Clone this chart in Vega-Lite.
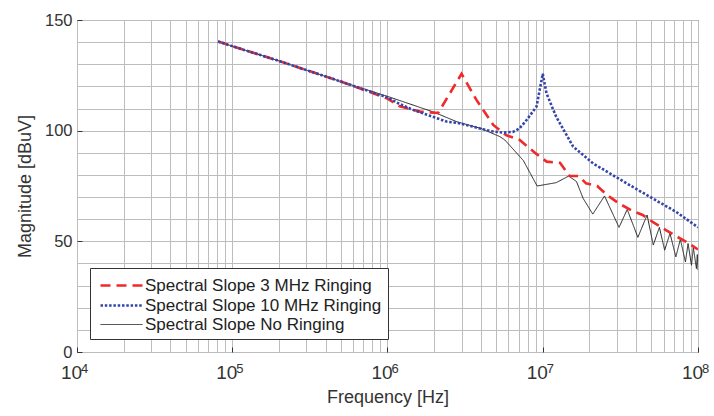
{
  "$schema": "https://vega.github.io/schema/vega-lite/v6.json",
  "width": 621,
  "height": 332,
  "autosize": {"type": "none"},
  "padding": {"left": 77, "top": 20, "right": 16, "bottom": 64},
  "background": "white",
  "config": {
    "font": "Liberation Sans",
    "view": {"stroke": "#333333", "strokeWidth": 1},
    "axis": {"domain": false, "gridColor": "#bdbdbd", "gridWidth": 1, "gridOpacity": 1, "labelOverlap": false, "labelFlush": false}
  },
  "layer": [
    {
      "data": {
        "values": [
          {"series": "Spectral Slope No Ringing", "f": 81000, "v": 140.3},
          {"series": "Spectral Slope No Ringing", "f": 100000, "v": 138.2},
          {"series": "Spectral Slope No Ringing", "f": 200000, "v": 131.5},
          {"series": "Spectral Slope No Ringing", "f": 500000, "v": 122.2},
          {"series": "Spectral Slope No Ringing", "f": 1000000, "v": 115.5},
          {"series": "Spectral Slope No Ringing", "f": 1500000, "v": 111.3},
          {"series": "Spectral Slope No Ringing", "f": 2000000, "v": 108.3},
          {"series": "Spectral Slope No Ringing", "f": 2800000, "v": 104.0},
          {"series": "Spectral Slope No Ringing", "f": 4000000, "v": 101.0},
          {"series": "Spectral Slope No Ringing", "f": 5300000, "v": 97.3},
          {"series": "Spectral Slope No Ringing", "f": 5700000, "v": 95.8},
          {"series": "Spectral Slope No Ringing", "f": 7500000, "v": 86.5},
          {"series": "Spectral Slope No Ringing", "f": 9200000, "v": 75.0},
          {"series": "Spectral Slope No Ringing", "f": 12200000, "v": 76.5},
          {"series": "Spectral Slope No Ringing", "f": 14700000, "v": 79.5},
          {"series": "Spectral Slope No Ringing", "f": 16500000, "v": 77.0},
          {"series": "Spectral Slope No Ringing", "f": 18200000, "v": 69.4},
          {"series": "Spectral Slope No Ringing", "f": 21000000, "v": 62.3},
          {"series": "Spectral Slope No Ringing", "f": 25000000, "v": 70.5},
          {"series": "Spectral Slope No Ringing", "f": 31000000, "v": 56.3},
          {"series": "Spectral Slope No Ringing", "f": 35000000, "v": 64.4},
          {"series": "Spectral Slope No Ringing", "f": 41000000, "v": 51.8},
          {"series": "Spectral Slope No Ringing", "f": 47000000, "v": 61.9},
          {"series": "Spectral Slope No Ringing", "f": 51500000, "v": 48.3},
          {"series": "Spectral Slope No Ringing", "f": 56400000, "v": 56.3},
          {"series": "Spectral Slope No Ringing", "f": 61000000, "v": 46.0},
          {"series": "Spectral Slope No Ringing", "f": 66000000, "v": 53.6},
          {"series": "Spectral Slope No Ringing", "f": 72000000, "v": 43.0},
          {"series": "Spectral Slope No Ringing", "f": 77000000, "v": 50.9},
          {"series": "Spectral Slope No Ringing", "f": 83000000, "v": 40.7},
          {"series": "Spectral Slope No Ringing", "f": 86300000, "v": 49.0},
          {"series": "Spectral Slope No Ringing", "f": 90800000, "v": 39.2},
          {"series": "Spectral Slope No Ringing", "f": 93300000, "v": 47.2},
          {"series": "Spectral Slope No Ringing", "f": 97700000, "v": 37.7},
          {"series": "Spectral Slope No Ringing", "f": 99000000, "v": 44.0},
          {"series": "Spectral Slope No Ringing", "f": 100000000, "v": 37.0},

          {"series": "Spectral Slope 3 MHz Ringing", "f": 81000, "v": 140.3},
          {"series": "Spectral Slope 3 MHz Ringing", "f": 100000, "v": 138.2},
          {"series": "Spectral Slope 3 MHz Ringing", "f": 200000, "v": 131.5},
          {"series": "Spectral Slope 3 MHz Ringing", "f": 500000, "v": 122.2},
          {"series": "Spectral Slope 3 MHz Ringing", "f": 1000000, "v": 114.5},
          {"series": "Spectral Slope 3 MHz Ringing", "f": 1200000, "v": 111.0},
          {"series": "Spectral Slope 3 MHz Ringing", "f": 1620000, "v": 108.6},
          {"series": "Spectral Slope 3 MHz Ringing", "f": 2120000, "v": 108.0},
          {"series": "Spectral Slope 3 MHz Ringing", "f": 3000000, "v": 125.7},
          {"series": "Spectral Slope 3 MHz Ringing", "f": 3740000, "v": 113.9},
          {"series": "Spectral Slope 3 MHz Ringing", "f": 4800000, "v": 102.6},
          {"series": "Spectral Slope 3 MHz Ringing", "f": 5800000, "v": 98.0},
          {"series": "Spectral Slope 3 MHz Ringing", "f": 7100000, "v": 95.8},
          {"series": "Spectral Slope 3 MHz Ringing", "f": 9100000, "v": 89.5},
          {"series": "Spectral Slope 3 MHz Ringing", "f": 10600000, "v": 86.0},
          {"series": "Spectral Slope 3 MHz Ringing", "f": 12900000, "v": 85.5},
          {"series": "Spectral Slope 3 MHz Ringing", "f": 14900000, "v": 79.5},
          {"series": "Spectral Slope 3 MHz Ringing", "f": 17000000, "v": 79.5},
          {"series": "Spectral Slope 3 MHz Ringing", "f": 19000000, "v": 76.2},
          {"series": "Spectral Slope 3 MHz Ringing", "f": 22400000, "v": 75.0},
          {"series": "Spectral Slope 3 MHz Ringing", "f": 26000000, "v": 70.9},
          {"series": "Spectral Slope 3 MHz Ringing", "f": 31000000, "v": 67.1},
          {"series": "Spectral Slope 3 MHz Ringing", "f": 37000000, "v": 64.1},
          {"series": "Spectral Slope 3 MHz Ringing", "f": 44000000, "v": 61.9},
          {"series": "Spectral Slope 3 MHz Ringing", "f": 51000000, "v": 58.8},
          {"series": "Spectral Slope 3 MHz Ringing", "f": 62500000, "v": 55.0},
          {"series": "Spectral Slope 3 MHz Ringing", "f": 72000000, "v": 52.4},
          {"series": "Spectral Slope 3 MHz Ringing", "f": 84000000, "v": 49.8},
          {"series": "Spectral Slope 3 MHz Ringing", "f": 100000000, "v": 46.3},

          {"series": "Spectral Slope 10 MHz Ringing", "f": 81000, "v": 140.3},
          {"series": "Spectral Slope 10 MHz Ringing", "f": 100000, "v": 138.2},
          {"series": "Spectral Slope 10 MHz Ringing", "f": 200000, "v": 131.5},
          {"series": "Spectral Slope 10 MHz Ringing", "f": 500000, "v": 122.2},
          {"series": "Spectral Slope 10 MHz Ringing", "f": 1000000, "v": 115.0},
          {"series": "Spectral Slope 10 MHz Ringing", "f": 1200000, "v": 112.0},
          {"series": "Spectral Slope 10 MHz Ringing", "f": 1460000, "v": 109.4},
          {"series": "Spectral Slope 10 MHz Ringing", "f": 2400000, "v": 104.1},
          {"series": "Spectral Slope 10 MHz Ringing", "f": 2930000, "v": 103.3},
          {"series": "Spectral Slope 10 MHz Ringing", "f": 3940000, "v": 101.0},
          {"series": "Spectral Slope 10 MHz Ringing", "f": 4600000, "v": 99.8},
          {"series": "Spectral Slope 10 MHz Ringing", "f": 5560000, "v": 99.1},
          {"series": "Spectral Slope 10 MHz Ringing", "f": 6460000, "v": 99.5},
          {"series": "Spectral Slope 10 MHz Ringing", "f": 7080000, "v": 101.0},
          {"series": "Spectral Slope 10 MHz Ringing", "f": 7870000, "v": 104.8},
          {"series": "Spectral Slope 10 MHz Ringing", "f": 9120000, "v": 110.9},
          {"series": "Spectral Slope 10 MHz Ringing", "f": 10000000, "v": 125.7},
          {"series": "Spectral Slope 10 MHz Ringing", "f": 10570000, "v": 116.9},
          {"series": "Spectral Slope 10 MHz Ringing", "f": 12200000, "v": 106.3},
          {"series": "Spectral Slope 10 MHz Ringing", "f": 15700000, "v": 92.8},
          {"series": "Spectral Slope 10 MHz Ringing", "f": 21100000, "v": 85.2},
          {"series": "Spectral Slope 10 MHz Ringing", "f": 34700000, "v": 76.2},
          {"series": "Spectral Slope 10 MHz Ringing", "f": 49000000, "v": 70.1},
          {"series": "Spectral Slope 10 MHz Ringing", "f": 72400000, "v": 63.3},
          {"series": "Spectral Slope 10 MHz Ringing", "f": 100000000, "v": 56.3}
        ]
      },
      "mark": {"type": "line", "clip": true},
      "encoding": {
        "x": {
          "field": "f",
          "type": "quantitative",
          "scale": {"type": "log", "domain": [10000, 100000000]},
          "axis": {
            "title": "Frequency [Hz]",
            "titleFontSize": 18,
            "titleFontWeight": "normal",
            "titleColor": "#333333",
            "titlePadding": 6,
            "values": [10000, 20000, 30000, 40000, 50000, 60000, 70000, 80000, 90000, 100000, 200000, 300000, 400000, 500000, 600000, 700000, 800000, 900000, 1000000, 2000000, 3000000, 4000000, 5000000, 6000000, 7000000, 8000000, 9000000, 10000000, 20000000, 30000000, 40000000, 50000000, 60000000, 70000000, 80000000, 90000000, 100000000],
            "labelExpr": "indexof([10000,100000,1000000,10000000,100000000], datum.value) >= 0 ? '10' : ''",
            "labelFontSize": 19,
            "labelColor": "#333333",
            "labelPadding": 16,
            "labelOffset": -6,
            "labelOverlap": false,
            "tickSize": -5,
            "tickColor": {"condition": {"test": "indexof([10000,100000,1000000,10000000,100000000], datum.value) >= 0", "value": "#333333"}, "value": "transparent"}
          }
        },
        "y": {
          "field": "v",
          "type": "quantitative",
          "scale": {"domain": [0, 150], "nice": false, "zero": true},
          "axis": {
            "title": "Magnitude [dBuV]",
            "titleFontSize": 18,
            "titleFontWeight": "normal",
            "titleColor": "#333333",
            "titlePadding": 10,
            "values": [0, 10, 20, 30, 40, 50, 60, 70, 80, 90, 100, 110, 120, 130, 140, 150],
            "labelExpr": "datum.value % 50 == 0 ? datum.label : ''",
            "labelFontSize": 16.5,
            "labelColor": "#333333",
            "labelPadding": 10,
            "labelOverlap": false,
            "tickSize": -5,
            "tickColor": {"condition": {"test": "datum.value % 50 == 0", "value": "#333333"}, "value": "transparent"}
          }
        },
        "detail": {"field": "series"},
        "color": {
          "field": "series",
          "type": "nominal",
          "scale": {
            "domain": ["Spectral Slope 3 MHz Ringing", "Spectral Slope 10 MHz Ringing", "Spectral Slope No Ringing"],
            "range": ["#f02a2a", "#3344aa", "#222222"]
          },
          "legend": {
            "title": null,
            "orient": "bottom-left",
            "offset": 13,
            "strokeColor": "#333333",
            "fillColor": "white",
            "padding": 6,
            "symbolType": "M-2.1,0H2.1",
            "symbolSize": 400,
            "symbolOffset": 14,
            "labelFontSize": 17,
            "labelColor": "#222222",
            "labelOffset": 12,
            "rowPadding": -3,
            "labelLimit": 400
          }
        },
        "strokeDash": {
          "field": "series",
          "type": "nominal",
          "scale": {
            "domain": ["Spectral Slope 3 MHz Ringing", "Spectral Slope 10 MHz Ringing", "Spectral Slope No Ringing"],
            "range": [[10, 6], [2.5, 1.8], [1, 0]]
          }
        },
        "strokeWidth": {
          "field": "series",
          "type": "nominal",
          "scale": {
            "type": "ordinal",
            "domain": ["Spectral Slope 3 MHz Ringing", "Spectral Slope 10 MHz Ringing", "Spectral Slope No Ringing"],
            "range": [2.6, 2.6, 1]
          }
        }
      }
    },
    {
      "data": {
        "values": [
          {"f": 10000, "exp": "4"},
          {"f": 100000, "exp": "5"},
          {"f": 1000000, "exp": "6"},
          {"f": 10000000, "exp": "7"},
          {"f": 100000000, "exp": "8"}
        ]
      },
      "mark": {"type": "text", "align": "left", "baseline": "alphabetic", "dx": 4, "dy": 20.5, "fontSize": 13, "color": "#333333", "clip": false},
      "encoding": {
        "x": {"field": "f", "type": "quantitative"},
        "y": {
          "datum": 0,
          "type": "quantitative",
          "axis": {
            "title": "Magnitude [dBuV]",
            "titleFontSize": 18,
            "titleFontWeight": "normal",
            "titleColor": "#333333",
            "titlePadding": 10,
            "values": [0, 10, 20, 30, 40, 50, 60, 70, 80, 90, 100, 110, 120, 130, 140, 150],
            "labelExpr": "datum.value % 50 == 0 ? datum.label : ''",
            "labelFontSize": 16.5,
            "labelColor": "#333333",
            "labelPadding": 10,
            "labelOverlap": false,
            "tickSize": -5,
            "tickColor": {"condition": {"test": "datum.value % 50 == 0", "value": "#333333"}, "value": "transparent"}
          }
        },
        "text": {"field": "exp"}
      }
    }
  ]
}
